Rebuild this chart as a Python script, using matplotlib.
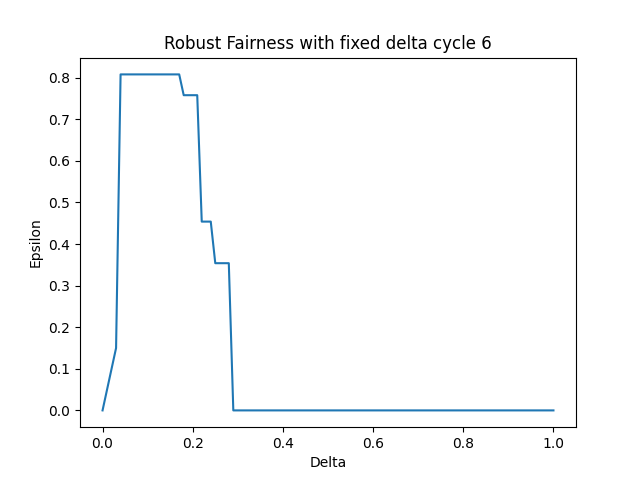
import matplotlib
matplotlib.use("Agg")
import matplotlib.pyplot as plt

# breakpoints
delta = [0.0, 0.03, 0.04, 0.17, 0.18, 0.21, 0.22, 0.24, 0.25, 0.28, 0.29, 1.0]
epsilon = [0.0, 0.15, 0.808, 0.808, 0.758, 0.758, 0.454, 0.454, 0.354, 0.354, 0.0, 0.0]

fig, ax = plt.subplots(figsize=(6.4, 4.8), dpi=100)
ax.plot(delta, epsilon)
ax.set_title("Robust Fairness with fixed delta cycle 6")
ax.set_xlabel("Delta")
ax.set_ylabel("Epsilon")
fig.savefig("out.png")
